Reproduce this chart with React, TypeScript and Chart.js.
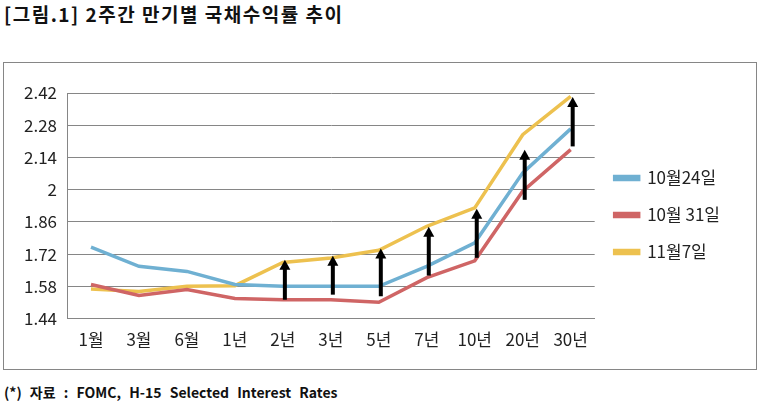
import React, { useEffect, useRef } from "react";
import { Chart, registerables } from "chart.js";

Chart.register(...registerables);

const categories = ["1월", "3월", "6월", "1년", "2년", "3년", "5년", "7년", "10년", "20년", "30년"];
const seriesNames = ["10월24일", "10월 31일", "11월7일"];
const oct24 = [1.75, 1.667, 1.645, 1.588, 1.58, 1.58, 1.58, 1.667, 1.769, 2.073, 2.264];
const oct31 = [1.588, 1.54, 1.566, 1.527, 1.522, 1.522, 1.511, 1.618, 1.691, 1.993, 2.174];
const nov7 = [1.569, 1.558, 1.58, 1.583, 1.684, 1.703, 1.737, 1.841, 1.921, 2.239, 2.405];
const yTicks = [1.44, 1.58, 1.72, 1.86, 2.0, 2.14, 2.28, 2.42];
const yTickLabels = ["1.44", "1.58", "1.72", "1.86", "2", "2.14", "2.28", "2.42"];
const arrowCategories = ["2년", "3년", "5년", "7년", "10년", "20년", "30년"];
const arrowFrom = [1.522, 1.544, 1.537, 1.627, 1.704, 1.956, 2.188];
const arrowTo = [1.696, 1.713, 1.745, 1.839, 1.917, 2.174, 2.403];

const colors = ["#6FB0D2", "#CF6565", "#EDC14F"];
const FONT = "'Noto Sans CJK KR', 'Noto Sans', sans-serif";

const arrowPlugin = {
  id: "arrows",
  afterDatasetsDraw(chart: any) {
    const { ctx, scales } = chart;
    const xs = scales.x;
    const ys = scales.y;
    ctx.save();
    arrowCategories.forEach((c, i) => {
      const idx = categories.indexOf(c);
      const x = xs.getPixelForValue(idx) + 2;
      const y0 = ys.getPixelForValue(arrowFrom[i]);
      const y1 = ys.getPixelForValue(arrowTo[i]);
      const head = 10;
      ctx.strokeStyle = "#000";
      ctx.lineWidth = 4;
      ctx.beginPath();
      ctx.moveTo(x, y0);
      ctx.lineTo(x, y1 + head - 1);
      ctx.stroke();
      ctx.fillStyle = "#000";
      ctx.beginPath();
      ctx.moveTo(x, y1);
      ctx.lineTo(x - 5.5, y1 + head);
      ctx.lineTo(x + 5.5, y1 + head);
      ctx.closePath();
      ctx.fill();
    });
    ctx.restore();
  },
};

const legendShift = {
  id: "legendShift",
  afterLayout(chart: any) {
    const lg = chart.legend;
    if (lg) {
      lg.top -= 12;
      lg.bottom -= 12;
    }
  },
};

export default function App() {
  const ref = useRef<HTMLCanvasElement | null>(null);
  useEffect(() => {
    if (!ref.current) return;
    const data = [oct24, oct31, nov7];
    const chart = new Chart(ref.current, {
      type: "line",
      data: {
        labels: categories,
        datasets: seriesNames.map((n, i) => ({
          label: n,
          data: data[i],
          borderColor: colors[i],
          backgroundColor: colors[i],
          borderWidth: 3.5,
          pointRadius: 0,
          tension: 0,
        })),
      },
      options: {
        animation: false,
        responsive: false,
        maintainAspectRatio: false,
        layout: { padding: { top: 30, right: 26, left: 0, bottom: 8 } },
        plugins: {
          tooltip: { enabled: false },
          legend: {
            position: "right",
            align: "center",
            labels: {
              boxWidth: 24,
              boxHeight: 3,
              padding: 20,
              color: "#222",
              font: { family: FONT, size: 17 },
            },
          },
        },
        scales: {
          x: {
            offset: true,
            grid: { display: false, drawTicks: false },
            border: { display: true, color: "#868686", width: 1 },
            ticks: {
              color: "#222",
              padding: 11,
              maxRotation: 0,
              autoSkip: false,
              font: { family: FONT, size: 17 },
            },
          },
          y: {
            min: 1.44,
            max: 2.42,
            afterBuildTicks: (s: any) => {
              s.ticks = yTicks.map((v) => ({ value: v }));
            },
            afterFit: (s: any) => {
              s.width = 63;
            },
            grid: { color: "#868686", lineWidth: 1, drawTicks: false },
            border: { display: true, color: "#868686", width: 1 },
            ticks: {
              color: "#222",
              padding: 10,
              font: { family: FONT, size: 17 },
              callback: (v: any) => {
                const i = yTicks.findIndex((t) => Math.abs(t - Number(v)) < 1e-6);
                return i >= 0 ? yTickLabels[i] : "";
              },
            },
          },
        },
      },
      plugins: [arrowPlugin, legendShift],
    });
    return () => chart.destroy();
  }, []);

  return (
    <div style={{ position: "fixed", left: 0, top: 0, width: 761, height: 404, background: "#fff", overflow: "hidden" }}>
      <div
        style={{
          position: "absolute",
          left: 4,
          top: 0,
          fontFamily: FONT,
          fontWeight: 700,
          fontSize: 19,
          letterSpacing: 1.5,
          color: "#111",
          whiteSpace: "nowrap",
        }}
      >
        [그림.1] 2주간 만기별 국채수익률 추이
      </div>
      <div
        style={{
          position: "absolute",
          left: 3,
          top: 62,
          width: 752,
          height: 306,
          border: "1px solid #868686",
        }}
      >
        <canvas ref={ref} width={752} height={306} style={{ display: "block" }} />
      </div>
      <div
        style={{
          position: "absolute",
          left: 4,
          top: 382,
          fontFamily: FONT,
          fontWeight: 700,
          fontSize: 14,
          color: "#111",
          whiteSpace: "nowrap",
          wordSpacing: 5,
        }}
      >
        (*) 자료 : FOMC, H-15 Selected Interest Rates
      </div>
    </div>
  );
}
